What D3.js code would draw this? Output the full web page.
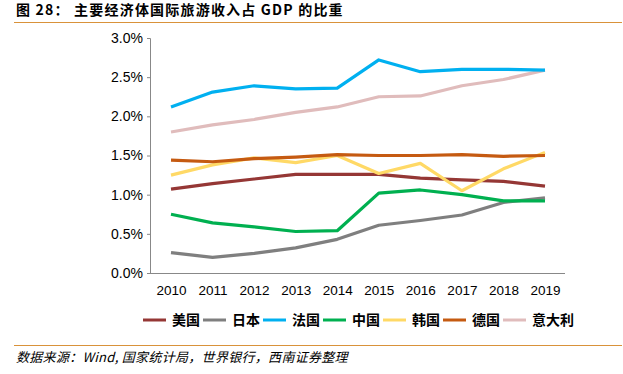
<!DOCTYPE html>
<html>
<head>
<meta charset="utf-8">
<script src="https://cdn.jsdelivr.net/npm/d3@7"></script>
<style>
  body { margin: 0; background: #fff; }
  text { font-family: "Liberation Sans", Arial, "Noto Sans CJK SC", sans-serif; }
</style>
</head>
<body>
<script>
var years = [2010, 2011, 2012, 2013, 2014, 2015, 2016, 2017, 2018, 2019];
var yTicks = [0, 0.005, 0.01, 0.015, 0.02, 0.025, 0.03];

var usa     = [1.07, 1.14, 1.20, 1.26, 1.26, 1.26, 1.21, 1.19, 1.17, 1.11];
var japan   = [0.26, 0.20, 0.25, 0.32, 0.43, 0.61, 0.67, 0.74, 0.90, 0.96];
var france  = [2.12, 2.31, 2.39, 2.35, 2.36, 2.72, 2.57, 2.60, 2.60, 2.59];
var china   = [0.75, 0.64, 0.59, 0.53, 0.54, 1.02, 1.06, 1.00, 0.92, 0.92];
var korea   = [1.25, 1.38, 1.47, 1.41, 1.50, 1.27, 1.40, 1.05, 1.33, 1.54];
var germany = [1.44, 1.42, 1.46, 1.48, 1.51, 1.50, 1.50, 1.51, 1.49, 1.50];
var italy   = [1.80, 1.89, 1.96, 2.05, 2.12, 2.25, 2.26, 2.39, 2.47, 2.59];

var names  = ["美国", "日本", "法国", "中国", "韩国", "德国", "意大利"];
var colors = ["#953735", "#7f7f7f", "#00b0f0", "#00b050", "#ffd966", "#c55a11", "#e0bcbc"];
var seriesList = [usa, japan, france, china, korea, germany, italy];
// draw order: back to front as in the original
var drawOrder = [6, 2, 1, 3, 0, 4, 5];

var W = 623, H = 374;
var svg = d3.select("body").append("svg").attr("width", W).attr("height", H);

// title
svg.append("text").attr("x", 16).attr("y", 15)
   .style("font-size", "14px").style("font-weight", "bold").style("letter-spacing", "1.2px")
   .style("font-family", "'Noto Sans CJK SC', sans-serif")
   .text("图 28： 主要经济体国际旅游收入占 GDP 的比重");
svg.append("line").attr("x1", 14).attr("x2", 622).attr("y1", 22.5).attr("y2", 22.5)
   .attr("stroke", "#d9923a").attr("stroke-width", 1.2);

var x = d3.scalePoint().domain(years).range([171, 545]);
var y = d3.scaleLinear().domain([0, 0.03]).range([273, 38]);

// y axis
var yAxis = svg.append("g").attr("transform", "translate(150,0)")
  .call(d3.axisLeft(y).tickValues(yTicks).tickSize(3).tickPadding(4).tickFormat(d3.format(".1%")));
yAxis.select(".domain").attr("stroke", "#888").attr("d", "M-3,38.5H0.5V273.5");
yAxis.selectAll(".tick line").attr("stroke", "#888");
yAxis.selectAll(".tick text").style("font-size", "14px").attr("fill", "#000");

// x axis
var xAxis = svg.append("g").attr("transform", "translate(0,273.5)")
  .call(d3.axisBottom(x).tickSize(0).tickPadding(12));
xAxis.select(".domain").attr("stroke", "#888").attr("d", "M150,0H565");
xAxis.selectAll(".tick text").style("font-size", "13.5px").attr("fill", "#000");

var line = d3.line().x(function (d, i) { return x(years[i]); })
                    .y(function (d) { return y(d / 100); });

svg.selectAll("path.series")
   .data(drawOrder)
   .enter().append("path")
   .attr("class", "series")
   .attr("d", function (k) { return line(seriesList[k]); })
   .attr("fill", "none")
   .attr("stroke", function (k) { return colors[k]; })
   .attr("stroke-width", 3.2)
   .attr("stroke-linejoin", "round");

// legend
var legend = svg.selectAll("g.leg").data(names).enter().append("g")
  .attr("class", "leg")
  .attr("transform", function (d, i) { return "translate(" + (143 + i * 60) + ",320)"; });
legend.append("line").attr("x1", 0).attr("x2", 23).attr("y1", 0).attr("y2", 0)
  .attr("stroke", function (d, i) { return colors[i]; }).attr("stroke-width", 3);
legend.append("text").attr("x", 29).attr("y", 5)
  .style("font-size", "14px").style("font-weight", "bold")
  .style("font-family", "'Noto Sans CJK SC', sans-serif")
  .text(function (d) { return d; });

// footer
svg.append("line").attr("x1", 14).attr("x2", 622).attr("y1", 345.5).attr("y2", 345.5)
   .attr("stroke", "#d9923a").attr("stroke-width", 1.2);
svg.append("text").attr("x", 16).attr("y", 362)
   .style("font-size", "13px").style("font-style", "italic").style("letter-spacing", "0.3px")
   .style("font-family", "'Noto Sans CJK SC', sans-serif")
   .text("数据来源：Wind, 国家统计局，世界银行，西南证券整理");
</script>
</body>
</html>
